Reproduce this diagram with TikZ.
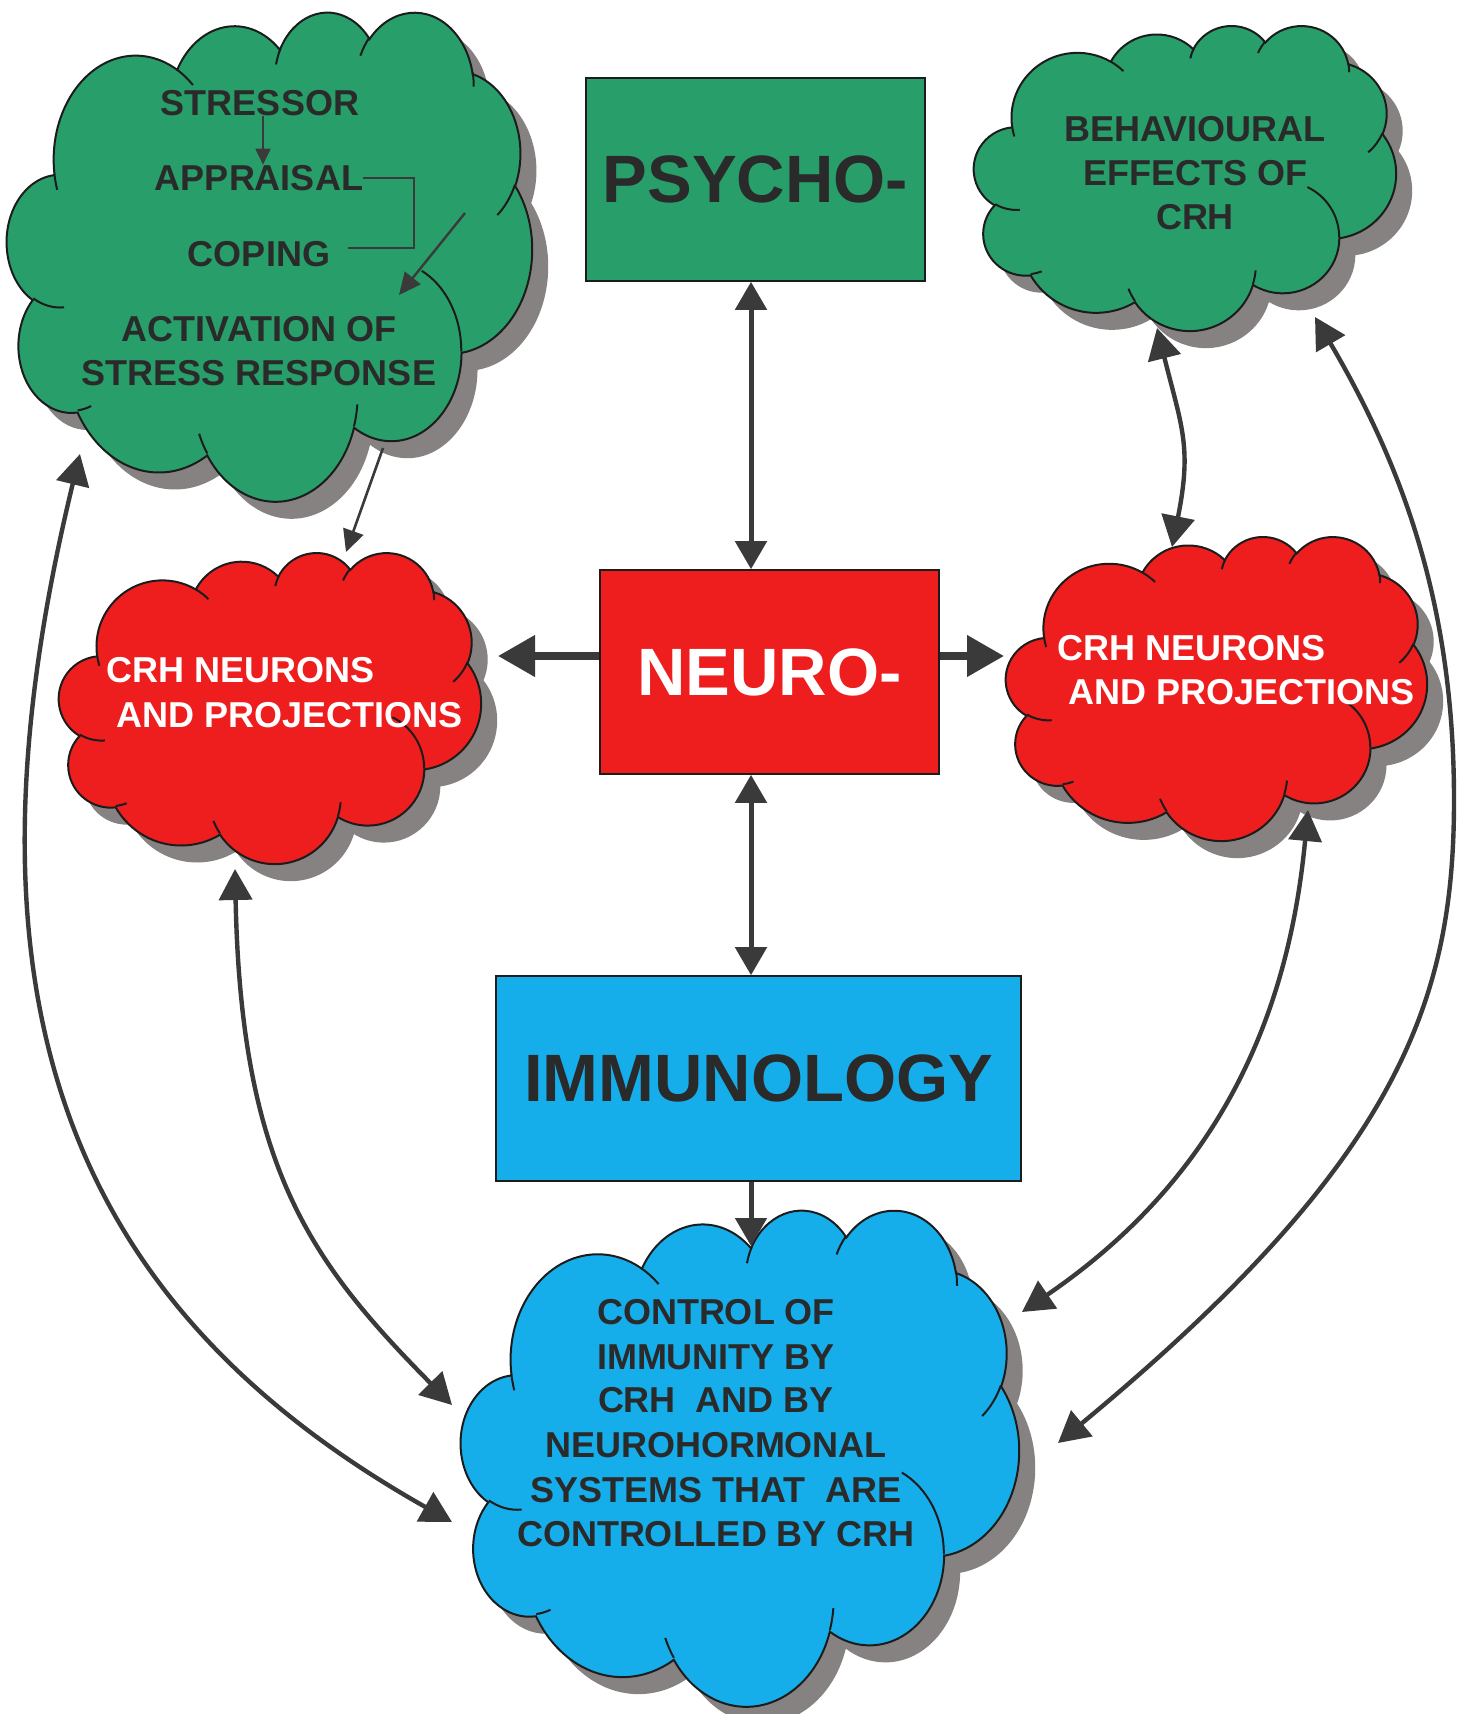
\documentclass[tikz,border=0pt]{standalone}
\usepackage{fontspec}
\setmainfont{Liberation Sans}
\usetikzlibrary{arrows.meta}

\definecolor{cgreen}{RGB}{40,158,106}
\definecolor{cred}{RGB}{238,30,30}
\definecolor{cblue}{RGB}{22,174,234}
\definecolor{shadowgray}{RGB}{134,130,130}
\definecolor{inkdark}{RGB}{42,42,42}
\definecolor{arrowgray}{RGB}{58,58,58}
\definecolor{edge}{RGB}{28,28,28}

% Elliptic arc given by radii, start angle and sweep (angles measured
% as seen from the centre); stored as a ready-made TikZ arc operation.
\newcommand\mkarc[5]{%
  \pgfmathsetmacro\myarcs{atan2((#2)*sin(#4),(#3)*cos(#4))}%
  \pgfmathsetmacro\myarce{atan2((#2)*sin((#4)+(#5)),(#3)*cos((#4)+(#5)))}%
  \pgfmathsetmacro\myarce{(\myarce<\myarcs) ? (\myarce+360) : (\myarce)}%
  \expandafter\xdef\csname #1\endcsname{arc[start angle=\myarcs, end angle=\myarce, x radius=#2, y radius=#3]}%
}
% outline of the cloud (unit box 432 x 432, y downwards)
\mkarc{cloudA}{67.53}{91.90}{-190.48748}{123.78053}
\mkarc{cloudB}{53.33}{72.67}{-144.10238}{89.94523}
\mkarc{cloudC}{43.65}{59.45}{-145.80792}{99.72302}
\mkarc{cloudD}{48.57}{65.95}{-130.98607}{117.24173}
\mkarc{cloudE}{53.33}{72.73}{-78.70888}{109.02692}
\mkarc{cloudF}{67.75}{92.20}{-46.26725}{130.26900}
\mkarc{cloudG}{57.85}{78.67}{0.62502}{114.03333}
\mkarc{cloudH}{67.52}{92.15}{22.45160}{115.17255}
\mkarc{cloudI}{77.20}{105.43}{66.24263}{75.71102}
\mkarc{cloudJ}{43.60}{59.18}{-274.94208}{146.73557}
\mkarc{cloudK}{43.45}{59.45}{-246.82850}{152.51885}
% small inner strokes of the cloud
\mkarc{cinA}{43.45}{59.45}{86.74200}{26.42950}
\mkarc{cinB}{43.60}{59.18}{73.61047}{11.44747}
\mkarc{cinC}{67.52}{92.15}{137.62415}{14.08110}
\mkarc{cinD}{67.52}{92.15}{6.45327}{15.99835}
\mkarc{cinE}{57.85}{78.67}{-70.29235}{70.91737}
\mkarc{cinF}{53.33}{72.73}{30.31803}{27.75150}
\mkarc{cinG}{48.57}{65.95}{-13.74433}{14.85890}
\mkarc{cinH}{48.57}{65.95}{-149.18145}{18.19537}
\mkarc{cinI}{43.65}{59.45}{-163.49427}{17.68635}
\mkarc{cinJ}{67.53}{91.90}{-66.70695}{12.31935}
\mkarc{cinK}{67.53}{91.90}{157.65435}{11.85817}

\def\cloudpath{(39.00,143.70) \cloudA \cloudB \cloudC \cloudD \cloudE \cloudF
  \cloudG \cloudH \cloudI \cloudJ \cloudK -- cycle}
\def\cloudinner{(46.93,261.77) \cinA (69.28,348.99) \cinB (164.78,390.90) \cinC
  (288.27,347.51) \cinD (341.29,229.54) \cinE (417.98,153.54) \cinF
  (383.24,54.26) \cinG (290.78,39.52) \cinH (221.41,47.20) \cinI
  (140.00,51.92) \cinJ (41.27,157.89) \cinK}

% cloud with drop shadow: fill colour, left, top, width, height
\newcommand\pptcloud[5]{%
  \begin{scope}[shift={(#2+16,#3+17)}, xscale=#4/432, yscale=#5/432]
    \fill[shadowgray] \cloudpath;
  \end{scope}
  \begin{scope}[shift={(#2,#3)}, xscale=#4/432, yscale=#5/432]
    \filldraw[fill=#1, draw=edge, line width=2pt] \cloudpath;
    \draw[edge, line width=2pt] \cloudinner;
  \end{scope}}

\tikzset{
  lbl/.style={inner sep=0pt, text=inkdark, anchor=base,
    font=\fontsize{36}{43}\selectfont\bfseries},
  wlbl/.style={lbl, text=white, anchor=base west},
  box/.style={draw=edge, line width=1.6pt, inner sep=0pt,
    font=\fontsize{67}{80}\selectfont\bfseries},
  tinyarrow/.style={draw=arrowgray, line width=2pt, -{Triangle[length=16pt,width=15pt]}},
  bracketline/.style={draw=arrowgray, line width=2pt},
  smallarrow/.style={draw=arrowgray, line width=2.4pt, -{Triangle[length=22pt,width=20pt]}},
  thinarrow/.style={draw=arrowgray, line width=2.6pt, -{Triangle[length=22pt,width=21pt]}},
  vdbl/.style={draw=arrowgray, line width=5pt,
    {Triangle[length=28pt,width=31pt]}-{Triangle[length=28pt,width=31pt]}},
  vsgl/.style={draw=arrowgray, line width=5pt, -{Triangle[length=28pt,width=31pt]}},
  fat/.style={draw=arrowgray, line width=7.5pt, -{Triangle[length=37pt,width=40pt]}},
  curve/.style={draw=arrowgray, line width=4.4pt,
    {Triangle[length=31pt,width=33pt]}-{Triangle[length=31pt,width=33pt]}},
}

\begin{document}
\begin{tikzpicture}[x=1pt, y=-1pt]
\useasboundingbox (0,0) rectangle (1466,1714);
\fill[white] (0,0) rectangle (1466,1714);

% clouds
\pptcloud{cgreen}{7}{11}{525}{489}
\pptcloud{cgreen}{974}{25}{422}{305}
\pptcloud{cred}{59}{552}{422}{311}
\pptcloud{cred}{1006}{536}{421}{304}
\pptcloud{cblue}{461}{1209}{558}{496}

% central boxes
\node[box, fill=cgreen, text=inkdark, minimum width=339pt, minimum height=203pt] (psy) at (755.5,179.5) {PSYCHO-};
\node[box, fill=cred, text=white, minimum width=339pt, minimum height=204pt] (neu) at (769.5,672) {NEURO-};
\node[box, fill=cblue, text=inkdark, minimum width=525pt, minimum height=205pt] (imm) at (758.5,1078.5) {IMMUNOLOGY};

% cloud texts
\node[lbl] (g1a) at (260,115) {STRESSOR};
\node[lbl] (g1b) at (259,190) {APPRAISAL};
\node[lbl] (g1c) at (259,266) {COPING};
\node[lbl] (g1d) at (259,341) {ACTIVATION OF};
\node[lbl] (g1e) at (259,385) {STRESS RESPONSE};

\node[lbl] (g2a) at (1195,141) {BEHAVIOURAL};
\node[lbl] (g2b) at (1195,185) {EFFECTS OF};
\node[lbl] (g2c) at (1195,229) {CRH};

\node[wlbl] (r1a) at (106,682) {CRH NEURONS};
\node[wlbl] (r1b) at (116,727) {AND PROJECTIONS};
\node[wlbl] (r2a) at (1057,660) {CRH NEURONS};
\node[wlbl] (r2b) at (1068,704) {AND PROJECTIONS};

\node[lbl] (ba) at (716,1324) {CONTROL OF};
\node[lbl] (bb) at (716,1369) {IMMUNITY BY};
\node[lbl] (bc) at (716,1412) {CRH\ \ AND BY};
\node[lbl] (bd) at (716,1457) {NEUROHORMONAL};
\node[lbl] (be) at (716,1502) {SYSTEMS THAT\ \ ARE};
\node[lbl] (bf) at (716,1546) {CONTROLLED BY CRH};

% arrow end points on the clouds
\coordinate (dga) at (465,213);
\coordinate (dgb) at (399,295);
\coordinate (g1out) at (383,448);
\coordinate (r1top) at (346,552);
\coordinate (r1in) at (498,656);
\coordinate (r2in) at (1004,656);
\coordinate (bin) at (751,1246);
\coordinate (g1low) at (80,454);
\coordinate (bleft2) at (452,1522);
\coordinate (r1low) at (235,869);
\coordinate (bleft1) at (452,1405);
\coordinate (g2low) at (1157,328);
\coordinate (r2top) at (1172,547);
\coordinate (r2low) at (1308,810);
\coordinate (bright1) at (1022,1312);
\coordinate (g2right) at (1315,317);
\coordinate (rmid) at (1454,800);
\coordinate (bright2) at (1058,1443);

% arrows inside the stress cloud
\draw[tinyarrow] ([xshift=3pt]g1a.south) -- ([xshift=4pt]g1b.north);
\draw[bracketline] (g1b.east) -- ++(51,0) |- ([xshift=18pt,yshift=6pt]g1c.east);
\draw[smallarrow] (dga) -- (dgb);

% connectors
\draw[thinarrow] (g1out) -- (r1top);
\draw[vdbl] ([xshift=-4.5pt]psy.south) -- ([xshift=-18.5pt]neu.north);
\draw[vdbl] ([xshift=-18.5pt]neu.south) -- ([xshift=-7.5pt]imm.north);
\draw[vsgl] ([xshift=-7.5pt]imm.south) -- (bin);
\draw[fat] ([yshift=16pt]neu.west) -- (r1in);
\draw[fat] ([yshift=16pt]neu.east) -- (r2in);

\draw[curve] (g1low) .. controls (-50,989) and (60,1301) .. (bleft2);
\draw[curve] (r1low) .. controls (241,1169) and (312,1263) .. (bleft1);
\draw[curve] (g2low) .. controls (1182,428) and (1192,447) .. (r2top);
\draw[curve] (r2low) .. controls (1290,1000) and (1230,1170) .. (bright1);
\draw[curve] (g2right) .. controls (1400,462) and (1454,600) .. (rmid)
  .. controls (1454,1000) and (1400,1160) .. (bright2);
\end{tikzpicture}
\end{document}
